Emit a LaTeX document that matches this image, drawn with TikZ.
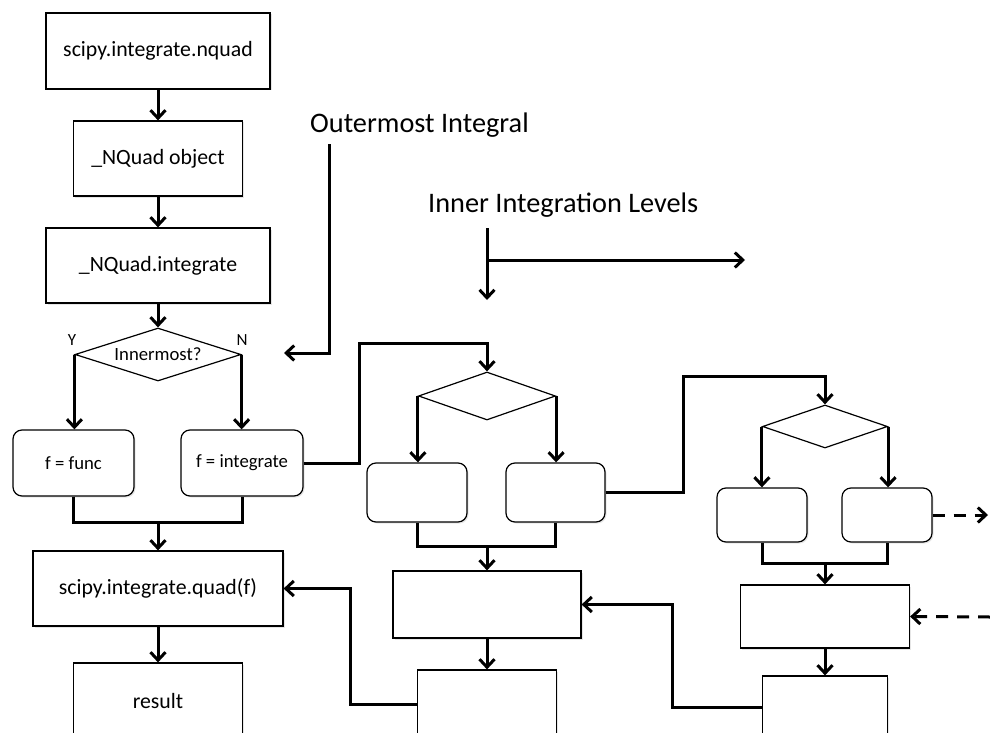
\documentclass[tikz,border=0pt]{standalone}
\usepackage{fontspec}
\setmainfont{Carlito}
\usetikzlibrary{shapes.geometric,arrows.meta,shadows}

\begin{document}
\begin{tikzpicture}[x=1pt,y=-1pt,
    box/.style={draw,line width=1.2pt,fill=white,inner sep=0pt,font=\fontsize{21.8}{26}\selectfont,
      drop shadow={shadow xshift=1.5pt,shadow yshift=-1.5pt,opacity=0.2}},
    rbox/.style={box,rounded corners=9pt,font=\fontsize{18.7}{22}\selectfont},
    decide/.style={draw,diamond,aspect=3.1,line width=1.2pt,fill=white,inner sep=0pt,font=\fontsize{18.7}{22}\selectfont},
    lbl/.style={font=\fontsize{28.3}{34}\selectfont,inner sep=0pt},
    yn/.style={font=\fontsize{17}{20}\selectfont,inner sep=0pt},
    line/.style={line width=3pt},
    flow/.style={line,-{Straight Barb[length=8pt,width=15pt]}},
    dflow/.style={flow,dash pattern=on 12pt off 9pt}]
  \useasboundingbox (0,0) rectangle (990,733);
  \clip (0,0) rectangle (990,733);

  % outermost level
  \node[box,minimum width=224pt,minimum height=76pt] (nquad) at (158,51) {scipy.integrate.nquad};
  \node[box,minimum width=169pt,minimum height=75pt] (nobj) at (158,158.5) {\_NQuad object};
  \node[box,minimum width=224pt,minimum height=75pt] (nint) at (158,265.5) {\_NQuad.integrate};
  \node[decide,minimum width=166pt,minimum height=53pt] (d1) at (158,354.5) {Innermost?};
  \node[rbox,minimum width=121pt,minimum height=66pt] (ffunc) at (73.5,463) {f = func};
  \node[rbox,minimum width=122pt,minimum height=66pt] (fint) at (242,463) {f = integrate};
  \node[box,minimum width=250pt,minimum height=75pt] (quad) at (158,588.5) {scipy.integrate.quad(f)};
  \node[box,minimum width=169pt,minimum height=76pt] (result) at (158,701) {result};
  \node[yn] (yes) at (72,340) {Y};
  \node[yn] (no) at (242,340) {N};

  % second level
  \node[decide,minimum width=137pt,minimum height=48pt] (d2) at (487,396) {};
  \node[rbox,minimum width=100pt,minimum height=59pt] (b2l) at (417,492.5) {};
  \node[rbox,minimum width=99pt,minimum height=59pt] (b2r) at (555.5,492.5) {};
  \node[box,minimum width=188pt,minimum height=67pt] (m2) at (487,604.5) {};
  \node[box,minimum width=139pt,minimum height=110pt] (e2) at (487,725) {};

  % third level
  \node[decide,minimum width=125pt,minimum height=43pt] (d3) at (825,426.5) {};
  \node[rbox,minimum width=90pt,minimum height=54pt] (b3l) at (762,515) {};
  \node[rbox,minimum width=90pt,minimum height=54pt] (b3r) at (887,515) {};
  \node[box,minimum width=169pt,minimum height=63pt] (m3) at (825,616.5) {};
  \node[box,minimum width=125pt,minimum height=110pt] (e3) at (825,731) {};

  % labels
  \node[lbl,anchor=base west] (outer) at (310,132) {Outermost Integral};
  \node[lbl,anchor=base west] (inner) at (428,212) {Inner Integration Levels};

  \coordinate (o1) at (329,144);
  \coordinate (o2) at (329,353);
  \coordinate (o3) at (284,353);
  \coordinate (i1) at (487,228);
  \coordinate (i2) at (487,300);
  \coordinate (i3) at (487,260);
  \coordinate (i4) at (745,260);
  \coordinate (j1) at (158,522);
  \coordinate (j2) at (487,546);
  \coordinate (j3) at (825,563);
  \coordinate (k1) at (359,343);
  \coordinate (k2) at (683,376);
  \coordinate (r2) at (350,704);
  \coordinate (r3) at (672,707);
  \coordinate (x1) at (988,515);
  \coordinate (x2) at (990,617);

  \draw[flow] (nquad) -- (nobj);
  \draw[flow] (nobj) -- (nint);
  \draw[flow] (nint) -- (d1);
  \draw[flow] (d1.west) -- (d1.west |- ffunc.north);
  \draw[flow] (d1.east) -- (d1.east |- fint.north);
  \draw[line] (ffunc.south) |- (j1) -| (fint.south);
  \draw[flow] (j1) -- (quad.north);
  \draw[flow] (quad) -- (result);

  \draw[flow] (o1) -- (o2) -- (o3);
  \draw[flow] (i1) -- (i2);
  \draw[flow] (i3) -- (i4);

  \draw[flow] (fint.east) -| (k1) -| (d2.north);
  \draw[flow] (d2.west) -- (d2.west |- b2l.north);
  \draw[flow] (d2.east) -- (d2.east |- b2r.north);
  \draw[line] (b2l.south) |- (j2) -| (b2r.south);
  \draw[flow] (j2) -- (m2.north);
  \draw[flow] (m2) -- (e2);
  \draw[flow] (r2 -| e2.west) -- (r2) |- (quad.east);

  \draw[flow] (b2r.east) -| (k2) -| (d3.north);
  \draw[flow] (d3.west) -- (d3.west |- b3l.north);
  \draw[flow] (d3.east) -- (d3.east |- b3r.north);
  \draw[line] (b3l.south) |- (j3) -| (b3r.south);
  \draw[flow] (j3) -- (m3.north);
  \draw[flow] (m3) -- (e3);
  \draw[flow] (r3 -| e3.west) -- (r3) |- (m2.east);
  \draw[dflow] (b3r.east) -- (x1);
  \draw[dflow] (x2) -- (m3.east);
\end{tikzpicture}
\end{document}
